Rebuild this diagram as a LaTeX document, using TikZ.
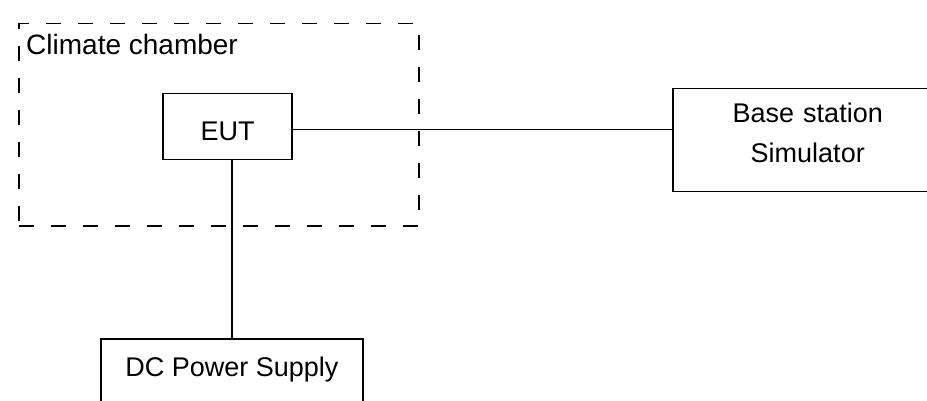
\documentclass[tikz,border=0pt]{standalone}
\usepackage{fontspec}
\setmainfont{Liberation Sans}

\begin{document}
\begin{tikzpicture}[x=1pt, y=-1pt, line width=1.5pt,
  box/.style={draw, inner sep=0pt, font=\fontsize{27}{40}\selectfont},
  chamberbox/.style={draw, dash pattern=on 15pt off 17pt, inner sep=0pt}]

\useasboundingbox (0,0) rectangle (927,401);

\node (chamber) [chamberbox, anchor=north west, minimum width=400pt, minimum height=202pt] at (18,23) {};
\node (title) [anchor=north west, inner sep=0pt, font=\fontsize{28}{34}\selectfont] at (25.5,33) {Climate chamber};

\node (eut) [box, anchor=north, minimum width=129pt, text height=47pt, text depth=19pt] at (227.5,93) {EUT};
\node (bss) [box, anchor=north west, text width=270pt, align=center, text height=34pt, text depth=69pt] at (672,88) {Base station\\Simulator};
\node (dc) [box, anchor=north, minimum width=262pt, text height=38pt, text depth=80pt] at (232,338) {DC Power Supply};

\draw ([yshift=-3pt]eut.east) to ([yshift=-3pt]eut.east -| bss.west);
\draw (eut.south -| dc.north) to (dc.north);

\end{tikzpicture}
\end{document}
